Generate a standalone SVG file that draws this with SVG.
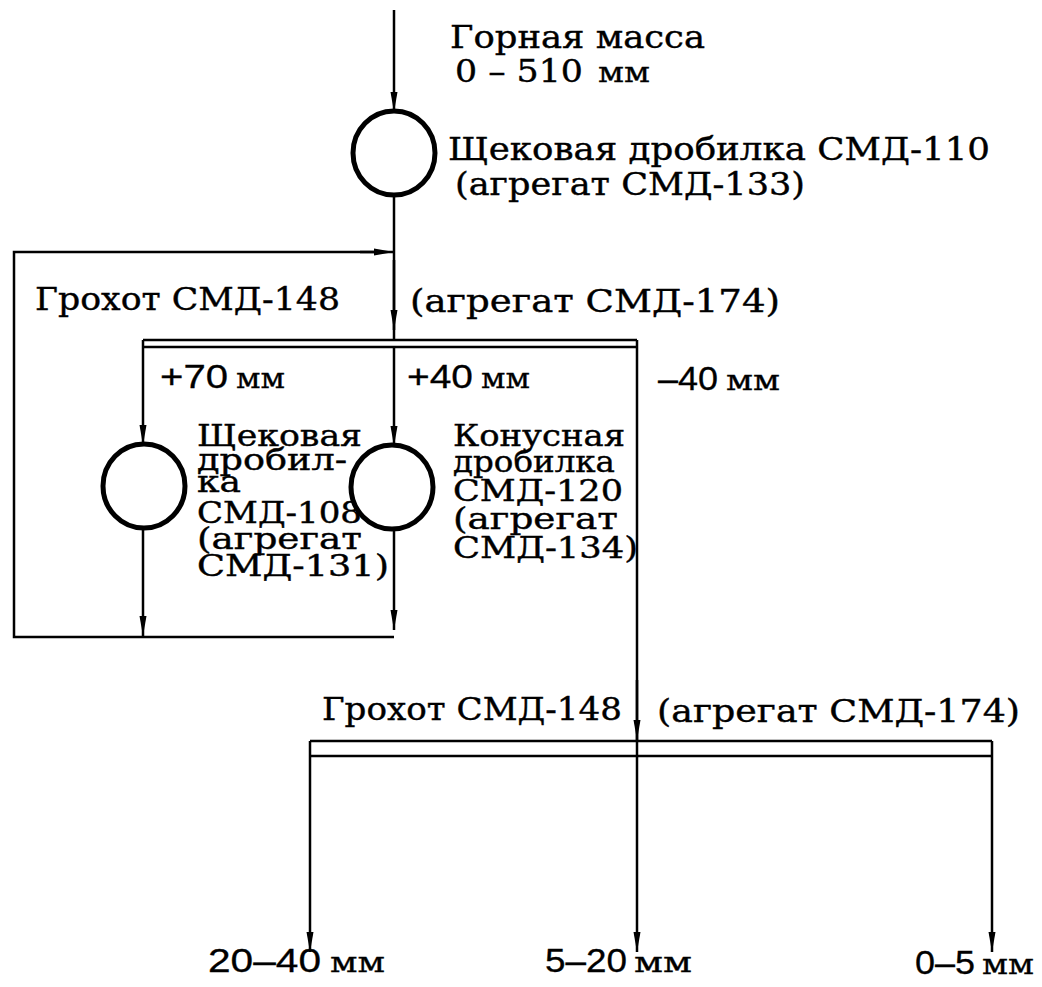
<svg xmlns="http://www.w3.org/2000/svg" width="1042" height="987" viewBox="0 0 1042 987">
<defs>
<marker id="ah" viewBox="0 0 20 10" refX="20" refY="5" markerWidth="20" markerHeight="10" markerUnits="userSpaceOnUse" orient="auto">
<path d="M0,1.5 L20,5 L0,8.5 Z" fill="#000"/>
</marker>
</defs>
<style>
.ln{stroke:#000;stroke-width:2.5;fill:none}
.ar{stroke:#000;stroke-width:2.5;fill:none;marker-end:url(#ah)}
.cr{stroke:#000;stroke-width:5;fill:#fff}
.t{font-family:"DejaVu Serif","Liberation Serif",serif;font-size:32px;fill:#000;stroke:#000;stroke-width:0.4}
.b{font-family:"DejaVu Serif","Liberation Serif",serif;font-size:29px;fill:#000;stroke:#000;stroke-width:0.4}
.d{font-family:"Liberation Sans","DejaVu Sans",sans-serif;font-size:33px;fill:#000;stroke:#000;stroke-width:0.3}
.m{font-family:"DejaVu Serif","Liberation Serif",serif;font-size:28px;fill:#000;stroke:#000;stroke-width:0.3}
</style>
<rect width="1042" height="987" fill="#fff"/>
<g id="connectors">
<line class="ar" x1="394" y1="10" x2="394" y2="112"/>
<line class="ln" x1="394" y1="195" x2="394" y2="340"/>
<line class="ar" x1="394" y1="260" x2="394" y2="330"/>
<polyline class="ln" points="394,637 14,637 14,252 380,252"/>
<line class="ar" x1="360" y1="252" x2="394" y2="252"/>
<line class="ln" x1="143" y1="340" x2="637" y2="340"/>
<line class="ln" x1="143" y1="347" x2="637" y2="347"/>
<line class="ln" x1="143" y1="340" x2="143" y2="347"/>
<line class="ar" x1="143" y1="347" x2="143" y2="445"/>
<line class="ar" x1="394" y1="347" x2="394" y2="446"/>
<line class="ar" x1="143" y1="528" x2="143" y2="636"/>
<line class="ar" x1="394" y1="529" x2="394" y2="630"/>
<line class="ln" x1="637" y1="340" x2="637" y2="741"/>
<line class="ar" x1="637" y1="680" x2="637" y2="740"/>
<line class="ln" x1="310" y1="741" x2="992" y2="741"/>
<line class="ln" x1="310" y1="756" x2="992" y2="756"/>
<line class="ar" x1="310" y1="741" x2="310" y2="952"/>
<line class="ar" x1="637" y1="741" x2="637" y2="952"/>
<line class="ar" x1="992" y1="741" x2="992" y2="952"/>
</g>
<g id="input">
<text class="t" x="450" y="48" textLength="255" lengthAdjust="spacingAndGlyphs">Горная масса</text>
<text class="t" x="455" y="82" textLength="128" lengthAdjust="spacingAndGlyphs">0 – 510</text>
<text class="m" x="598" y="82" textLength="52" lengthAdjust="spacingAndGlyphs">мм</text>
</g>
<g id="jaw-crusher-110">
<ellipse class="cr" cx="394" cy="153" rx="41" ry="42"/>
<text class="t" x="448" y="160" textLength="542" lengthAdjust="spacingAndGlyphs">Щековая дробилка СМД-110</text>
<text class="t" x="455" y="195" textLength="350" lengthAdjust="spacingAndGlyphs">(агрегат СМД-133)</text>
</g>
<g id="screen-1">
<text class="t" x="35" y="310" textLength="305" lengthAdjust="spacingAndGlyphs">Грохот СМД-148</text>
<text class="t" x="410" y="312" textLength="370" lengthAdjust="spacingAndGlyphs">(агрегат СМД-174)</text>
<text class="d" x="160" y="388" textLength="68" lengthAdjust="spacingAndGlyphs">+70</text>
<text class="m" x="236" y="388" textLength="49" lengthAdjust="spacingAndGlyphs">мм</text>
<text class="d" x="407" y="388" textLength="66" lengthAdjust="spacingAndGlyphs">+40</text>
<text class="m" x="481" y="388" textLength="49" lengthAdjust="spacingAndGlyphs">мм</text>
<text class="d" x="658" y="390" textLength="60" lengthAdjust="spacingAndGlyphs">–40</text>
<text class="m" x="726" y="390" textLength="54" lengthAdjust="spacingAndGlyphs">мм</text>
</g>
<g id="jaw-crusher-108">
<ellipse class="cr" cx="144" cy="486" rx="41" ry="42"/>
<text class="b" x="197" y="446" textLength="165" lengthAdjust="spacingAndGlyphs">Щековая</text>
<text class="b" x="197" y="470" textLength="150" lengthAdjust="spacingAndGlyphs">дробил-</text>
<text class="b" x="197" y="492" textLength="44" lengthAdjust="spacingAndGlyphs">ка</text>
<text class="b" x="197" y="523" textLength="165" lengthAdjust="spacingAndGlyphs">СМД-108</text>
<text class="b" x="197" y="549" textLength="165" lengthAdjust="spacingAndGlyphs">(агрегат</text>
<text class="b" x="197" y="576" textLength="192" lengthAdjust="spacingAndGlyphs">СМД-131)</text>
</g>
<g id="cone-crusher-120">
<ellipse class="cr" cx="392" cy="487" rx="41" ry="42"/>
<text class="b" x="453" y="446" textLength="172" lengthAdjust="spacingAndGlyphs">Конусная</text>
<text class="b" x="453" y="472" textLength="162" lengthAdjust="spacingAndGlyphs">дробилка</text>
<text class="b" x="453" y="501" textLength="170" lengthAdjust="spacingAndGlyphs">СМД-120</text>
<text class="b" x="453" y="529" textLength="165" lengthAdjust="spacingAndGlyphs">(агрегат</text>
<text class="b" x="453" y="558" textLength="185" lengthAdjust="spacingAndGlyphs">СМД-134)</text>
</g>
<g id="screen-2">
<text class="t" x="322" y="720" textLength="300" lengthAdjust="spacingAndGlyphs">Грохот СМД-148</text>
<text class="t" x="657" y="722" textLength="363" lengthAdjust="spacingAndGlyphs">(агрегат СМД-174)</text>
</g>
<g id="outputs">
<text class="d" x="208" y="972" textLength="113" lengthAdjust="spacingAndGlyphs">20–40</text>
<text class="m" x="330" y="972" textLength="55" lengthAdjust="spacingAndGlyphs">мм</text>
<text class="d" x="545" y="972" textLength="82" lengthAdjust="spacingAndGlyphs">5–20</text>
<text class="m" x="634" y="972" textLength="58" lengthAdjust="spacingAndGlyphs">мм</text>
<text class="d" x="915" y="974" textLength="60" lengthAdjust="spacingAndGlyphs">0–5</text>
<text class="m" x="982" y="974" textLength="52" lengthAdjust="spacingAndGlyphs">мм</text>
</g>
</svg>
